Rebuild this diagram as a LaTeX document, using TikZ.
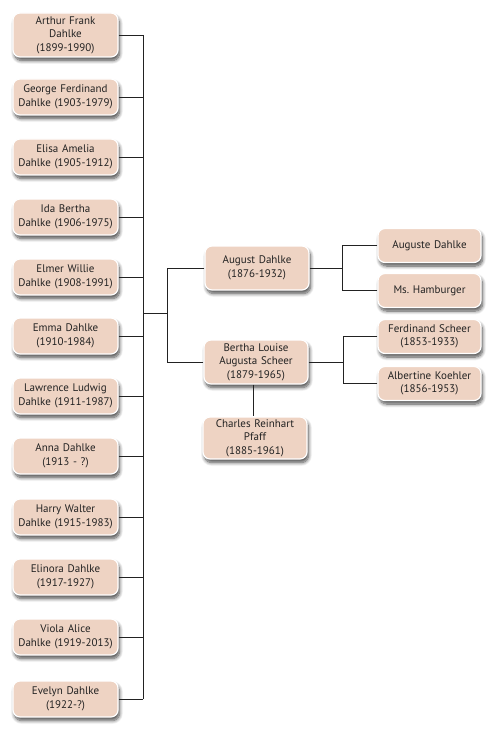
\documentclass[tikz,border=0pt]{standalone}
\usepackage{fontspec}
\setmainfont{PT Sans}
\usetikzlibrary{shadows.blur}
\definecolor{boxfill}{HTML}{EED3C3}
\definecolor{linec}{HTML}{222222}
\tikzset{
  person/.style={rectangle, rounded corners=7pt, draw=white, line width=1.2pt,
    fill=boxfill, align=center, inner sep=1pt, font=\fontsize{11}{13.5}\selectfont,
    text=linec, blur shadow={shadow xshift=1.5pt, shadow yshift=-3.5pt, shadow blur steps=8, shadow blur radius=3.5pt, shadow opacity=70}},
  left/.style={person, minimum width=105pt, text width=103pt},
  mid/.style={person, minimum width=104pt, text width=102pt, minimum height=44pt},
  right/.style={person, minimum width=103pt, text width=101pt, minimum height=34pt},
  three/.style={minimum height=44pt},
  two/.style={minimum height=36pt},
  link/.style={draw=linec, line width=0.9pt},
}
\begin{document}
\begin{tikzpicture}[x=1pt,y=-1pt]
\useasboundingbox (0,0) rectangle (502,738);
\node[left,three] (c1)  at (65.5,35)  {Arthur Frank\\Dahlke\\(1899-1990)};
\node[left,two]   (c2)  at (65.5,97)  {George Ferdinand\\Dahlke (1903-1979)};
\node[left,two]   (c3)  at (65.5,157) {Elisa Amelia\\Dahlke (1905-1912)};
\node[left,two]   (c4)  at (65.5,217) {Ida Bertha\\Dahlke (1906-1975)};
\node[left,two]   (c5)  at (65.5,277) {Elmer Willie\\Dahlke (1908-1991)};
\node[left,two]   (c6)  at (65.5,336) {Emma Dahlke\\(1910-1984)};
\node[left,two]   (c7)  at (65.5,396) {Lawrence Ludwig\\Dahlke (1911-1987)};
\node[left,two]   (c8)  at (65.5,456) {Anna Dahlke\\(1913 - ?)};
\node[left,two]   (c9)  at (65.5,517) {Harry Walter\\Dahlke (1915-1983)};
\node[left,two]   (c10) at (65.5,577) {Elinora Dahlke\\(1917-1927)};
\node[left,two]   (c11) at (65.5,637) {Viola Alice\\Dahlke (1919-2013)};
\node[left,two]   (c12) at (65.5,699) {Evelyn Dahlke\\(1922-?)};

\node[mid] (aug) at (257,268) {August Dahlke\\(1876-1932)};
\node[mid] (ber) at (256,362) {Bertha Louise\\Augusta Scheer\\(1879-1965)};
\node[mid,minimum height=42pt] (cha) at (255,438) {Charles Reinhart\\Pfaff\\(1885-1961)};

\node[right] (aug2) at (429.5,245.5) {Auguste Dahlke};
\node[right] (ham)  at (429.5,290.5) {Ms.\ Hamburger};
\node[right] (fer)  at (429.5,336.5) {Ferdinand Scheer\\(1853-1933)};
\node[right] (alb)  at (429.5,383.5) {Albertine Koehler\\(1856-1953)};

\coordinate (sp) at (143,313);
\coordinate (br) at (167,313);
\foreach \i in {1,...,12} {\draw[link] (c\i.east) -- (c\i.east -| sp);}
\draw[link] (c1.east -| sp) -- (c12.east -| sp);
\draw[link] (sp) -- (br);
\draw[link] (aug.west) -| (br);
\draw[link] (ber.west) -| (br);
\draw[link] (ber.south -| cha.north) ++(-2,0) coordinate (bs) -- (bs |- cha.north);

\draw[link] (aug.east) -- ++(33,0) coordinate (br2);
\draw[link] (aug2.west) -| (br2);
\draw[link] (ham.west) -| (br2);
\draw[link] (ber.east) -- ++(35,0) coordinate (br3);
\draw[link] (fer.west) -| (br3);
\draw[link] (alb.west) -| (br3);
\end{tikzpicture}
\end{document}
